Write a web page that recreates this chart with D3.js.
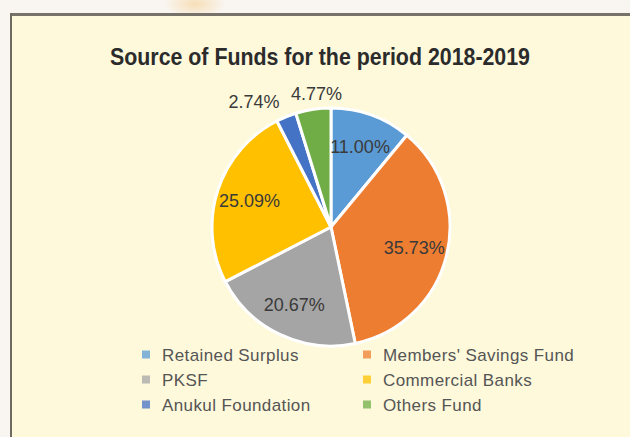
<!DOCTYPE html>
<html>
<head>
<meta charset="utf-8">
<script src="https://cdn.jsdelivr.net/npm/d3@7"></script>
<style>
  html, body { margin: 0; padding: 0; background: #f8f4ef; }
  svg { display: block; }
</style>
</head>
<body>
<svg id="chart" width="630" height="437"></svg>
<script>
// Funding sources, share of total (%)
const categories = ["Retained Surplus", "Members' Savings Fund", "PKSF", "Commercial Banks", "Anukul Foundation", "Others Fund"];
const shares = [11.00, 35.73, 20.67, 25.09, 2.74, 4.77];
const sliceColors = ["#5b9bd5", "#ed7d31", "#a5a5a5", "#ffc000", "#4472c4", "#70ad47"];
const chartTitle = "Source of Funds for the period 2018-2019";

const W = 630, H = 437;
const svg = d3.select("#chart");

// page backdrop and a faint warm glow above the panel
const defs = svg.append("defs");
const glow = defs.append("radialGradient").attr("id", "glow");
glow.append("stop").attr("offset", "0%").attr("stop-color", "#f6d9a8").attr("stop-opacity", 0.8);
glow.append("stop").attr("offset", "100%").attr("stop-color", "#f6d9a8").attr("stop-opacity", 0);
svg.append("rect").attr("width", W).attr("height", H).attr("fill", "#f9f5f0");
svg.append("ellipse").attr("cx", 195).attr("cy", 4).attr("rx", 30).attr("ry", 14).attr("fill", "url(#glow)");

// framed panel (runs past the right and bottom edges)
const panel = { x: 10, y: 13 };
svg.append("rect")
  .attr("x", panel.x).attr("y", panel.y)
  .attr("width", W - panel.x + 10).attr("height", H - panel.y + 10)
  .attr("fill", "#fef9db");
svg.append("line").attr("x1", panel.x).attr("x2", W).attr("y1", panel.y + 1.5).attr("y2", panel.y + 1.5)
  .attr("stroke", "#77736a").attr("stroke-width", 3);
svg.append("line").attr("x1", panel.x + 1).attr("x2", panel.x + 1).attr("y1", panel.y).attr("y2", H)
  .attr("stroke", "#6f6b60").attr("stroke-width", 2);

// title
svg.append("text")
  .attr("x", 320).attr("y", 65)
  .attr("text-anchor", "middle")
  .attr("font-family", "Liberation Sans, Arial, sans-serif")
  .attr("font-weight", "bold")
  .attr("font-size", 23)
  .attr("textLength", 420)
  .attr("lengthAdjust", "spacingAndGlyphs")
  .attr("fill", "#2b2b2b")
  .text(chartTitle);

// pie
const cx = 331, cy = 227, R = 119;
const data = categories.map((c, i) => ({ name: c, value: shares[i], color: sliceColors[i] }));
const pie = d3.pie().value(d => d.value).sort(null);
const arcs = pie(data);
const arc = d3.arc().innerRadius(0).outerRadius(R);
const labelArc = d3.arc().innerRadius(R * 0.72).outerRadius(R * 0.72);
const outerArc = d3.arc().innerRadius(R + 18).outerRadius(R + 18);

const g = svg.append("g").attr("transform", `translate(${cx},${cy})`);
g.selectAll("path.slice")
  .data(arcs)
  .join("path")
  .attr("class", "slice")
  .attr("d", arc)
  .attr("fill", d => d.data.color)
  .attr("stroke", "#ffffff")
  .attr("stroke-width", 3)
  .attr("stroke-linejoin", "round");

g.selectAll("text.pct")
  .data(arcs)
  .join("text")
  .attr("class", "pct")
  .each(function (d) {
    const inside = d.data.value >= 10;
    const [x, y] = inside ? labelArc.centroid(d) : outerArc.centroid(d);
    const anchor = inside ? "middle" : (x < -30 ? "end" : "middle");
    d3.select(this)
      .attr("x", inside ? x : (anchor === "middle" ? x + 6 : x))
      .attr("y", inside ? y : y + 2)
      .attr("dy", "0.35em")
      .attr("text-anchor", anchor);
  })
  .attr("font-family", "Liberation Sans, Arial, sans-serif")
  .attr("font-size", 18)
  .attr("fill", "#3a3a3a")
  .text(d => d.data.value.toFixed(2) + "%");

// legend: two columns, three rows
const col = d3.scaleOrdinal().domain([0, 1]).range([142, 363]);
const row = d3.scalePoint().domain([0, 1, 2]).range([355, 405]);
const legend = svg.append("g")
  .selectAll("g")
  .data(data)
  .join("g")
  .attr("transform", (d, i) => `translate(${col(i % 2)},${row(Math.floor(i / 2))})`);
legend.append("rect")
  .attr("x", 0).attr("y", -4.5)
  .attr("width", 8).attr("height", 8)
  .attr("fill", d => d.color)
  .attr("opacity", 0.75);
legend.append("text")
  .attr("x", 20).attr("dy", "0.35em")
  .attr("font-family", "Liberation Sans, Arial, sans-serif")
  .attr("font-size", 17)
  .attr("letter-spacing", 0.4)
  .attr("fill", "#555555")
  .text(d => d.name);
</script>
</body>
</html>
